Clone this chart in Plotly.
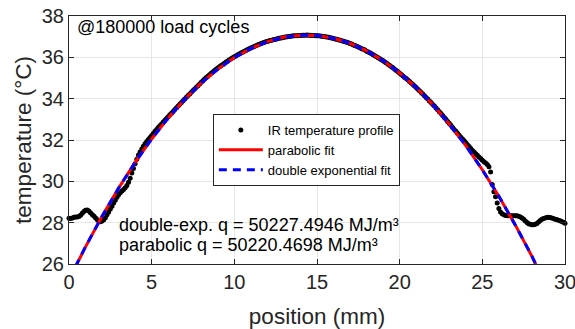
import numpy as np
import plotly.graph_objects as go

# ---------------- data ----------------
# IR temperature profile, sampled every 0.1 mm from 0 to 30 mm
ir_position_mm = np.round(np.arange(0, 301) * 0.1, 1)
ir_temperature = [
    # 0.0 - 2.2
    28.21, 28.20, 28.22, 28.26, 28.28, 28.28, 28.30, 28.36, 28.45, 28.54,
    28.60, 28.61, 28.56, 28.48, 28.40, 28.32, 28.24, 28.15, 28.07, 28.04,
    28.08, 28.14, 28.24,
    # 2.3 - 4.1
    28.38, 28.52, 28.66, 28.80, 28.95, 29.09, 29.23, 29.35, 29.45, 29.53,
    29.61, 29.69, 29.80, 29.95, 30.15, 30.40, 30.62, 30.85, 31.07,
    # 4.2 - 6.6
    31.28, 31.42, 31.56, 31.70, 31.82, 31.93, 32.02, 32.12, 32.22, 32.32,
    32.42, 32.51, 32.60, 32.69, 32.78, 32.87, 32.96, 33.04, 33.13, 33.22,
    33.30, 33.38, 33.47, 33.56, 33.65,
    # 6.7 - 23.1
    33.73, 33.81, 33.90, 33.98, 34.07, 34.15, 34.23, 34.31, 34.39, 34.47,
    34.55, 34.63, 34.71, 34.79, 34.87, 34.95, 35.02, 35.09, 35.16, 35.23,
    35.29, 35.36, 35.42, 35.48, 35.54, 35.60, 35.65, 35.71, 35.77, 35.82,
    35.88, 35.93, 35.98, 36.03, 36.07, 36.12, 36.16, 36.21, 36.25, 36.29,
    36.33, 36.38, 36.42, 36.45, 36.49, 36.53, 36.56, 36.60, 36.63, 36.66,
    36.69, 36.72, 36.75, 36.77, 36.80, 36.82, 36.84, 36.86, 36.88, 36.90,
    36.92, 36.94, 36.95, 36.97, 36.98, 37.00, 37.01, 37.02, 37.03, 37.04,
    37.04, 37.05, 37.06, 37.06, 37.07, 37.07, 37.07, 37.08, 37.07, 37.07,
    37.06, 37.06, 37.05, 37.05, 37.04, 37.03, 37.02, 37.01, 36.99, 36.98,
    36.97, 36.95, 36.93, 36.91, 36.89, 36.87, 36.85, 36.83, 36.80, 36.78,
    36.75, 36.73, 36.70, 36.67, 36.64, 36.60, 36.57, 36.54, 36.50, 36.46,
    36.42, 36.39, 36.35, 36.30, 36.26, 36.22, 36.17, 36.13, 36.08, 36.03,
    35.98, 35.93, 35.88, 35.83, 35.77, 35.72, 35.66, 35.60, 35.55, 35.49,
    35.42, 35.36, 35.30, 35.23, 35.17, 35.10, 35.03, 34.97, 34.90, 34.83,
    34.76, 34.69, 34.61, 34.54, 34.46, 34.38, 34.30, 34.22, 34.14, 34.06,
    33.98, 33.89, 33.81, 33.72, 33.64, 33.55, 33.46, 33.37, 33.28, 33.19,
    33.09, 33.00, 32.90, 32.81, 32.71,
    # 23.2 - 25.4
    32.61, 32.51, 32.42, 32.33, 32.23, 32.13, 32.05, 31.96, 31.87, 31.77,
    31.68, 31.59, 31.49, 31.42, 31.34, 31.26, 31.18, 31.10, 31.02, 30.95,
    30.89, 30.82, 30.70,
    # 25.5 - 30.0
    30.45, 29.85, 29.50, 29.25, 28.95, 28.68, 28.52, 28.43, 28.38, 28.35,
    28.33, 28.33, 28.34, 28.33, 28.33, 28.34, 28.33, 28.31, 28.28, 28.23,
    28.16, 28.08, 28.01, 27.95, 27.92, 27.90, 27.90, 27.92, 27.96, 28.03,
    28.10, 28.16, 28.20, 28.23, 28.25, 28.26, 28.25, 28.23, 28.20, 28.17,
    28.15, 28.12, 28.09, 28.06, 28.02, 27.97,
]
assert len(ir_temperature) == len(ir_position_mm)

# fitted curves, read every 1 mm
fit_position_mm = list(range(0, 31))
parabolic_fit = [25.24, 26.83, 28.31, 29.67, 30.92, 32.05, 33.07, 33.97, 34.76, 35.43,
                 35.99, 36.43, 36.76, 36.98, 37.07, 37.06, 36.92, 36.68, 36.31, 35.84,
                 35.24, 34.54, 33.72, 32.78, 31.73, 30.56, 29.28, 27.88, 26.37, 24.74,
                 23.00]
double_exp_fit = [25.26, 26.84, 28.31, 29.67, 30.92, 32.05, 33.07, 33.97, 34.76, 35.43,
                  35.99, 36.43, 36.76, 36.97, 37.07, 37.06, 36.92, 36.68, 36.31, 35.84,
                  35.24, 34.54, 33.72, 32.78, 31.73, 30.56, 29.28, 27.88, 26.38, 24.76,
                  23.03]

x_ticks = [0, 5, 10, 15, 20, 25, 30]
y_ticks = [26, 28, 30, 32, 34, 36, 38]

cycles_label = "@180000 load cycles"
q_double_exp = "double-exp. q = 50227.4946 MJ/m³"
q_parabolic = "parabolic q = 50220.4698 MJ/m³"

FONT = "Liberation Sans, Arial, Helvetica, sans-serif"
AX = "#262626"

fig = go.Figure()
fig.add_trace(go.Scatter(
    x=ir_position_mm, y=ir_temperature, mode="markers",
    name="IR temperature profile",
    marker=dict(color="black", size=5, line=dict(width=0)),
    cliponaxis=False,
))
fig.add_trace(go.Scatter(
    x=fit_position_mm, y=parabolic_fit, mode="lines", name="parabolic fit",
    line=dict(color="#ff0000", width=3),
))
fig.add_trace(go.Scatter(
    x=fit_position_mm, y=double_exp_fit, mode="lines", name="double exponential fit",
    line=dict(color="#0000ff", width=3, dash="8px,6px"),
))

axis_common = dict(
    showline=True, linecolor=AX, linewidth=1, mirror="ticks",
    ticks="inside", ticklen=5, tickcolor=AX, tickwidth=1,
    showgrid=True, gridcolor="#e6e6e6", gridwidth=1, zeroline=False,
    tickfont=dict(family=FONT, size=20, color=AX),
    ticklabeloverflow="allow", automargin=False,
)
fig.update_xaxes(range=[0, 30], tickvals=x_ticks, **axis_common,
                 title=dict(text="position (mm)", font=dict(family=FONT, size=22.5, color=AX), standoff=20))
fig.update_yaxes(range=[26, 38], tickvals=y_ticks, **axis_common,
                 title=dict(text="temperature (°C)", font=dict(family=FONT, size=22.5, color=AX), standoff=3))

fig.add_annotation(x=0.012, y=0.956, xref="paper", yref="paper", xanchor="left", yanchor="middle",
                   text=cycles_label, showarrow=False, font=dict(family=FONT, size=18, color="black"))
fig.add_annotation(x=0.097, y=0.157, xref="paper", yref="paper", xanchor="left", yanchor="middle",
                   text=q_double_exp, showarrow=False, font=dict(family=FONT, size=18, color="black"))
fig.add_annotation(x=0.097, y=0.077, xref="paper", yref="paper", xanchor="left", yanchor="middle",
                   text=q_parabolic, showarrow=False, font=dict(family=FONT, size=18, color="black"))

fig.update_layout(
    width=575, height=329,
    margin=dict(l=69, r=10, t=16, b=65, autoexpand=False),
    paper_bgcolor="white", plot_bgcolor="white",
    showlegend=True,
    legend=dict(x=0.29, y=0.605, xanchor="left", yanchor="top",
                bgcolor="white", bordercolor=AX, borderwidth=1,
                font=dict(family=FONT, size=13, color="black"),
                itemwidth=44, tracegroupgap=0),
)

fig.write_html("out.html")
